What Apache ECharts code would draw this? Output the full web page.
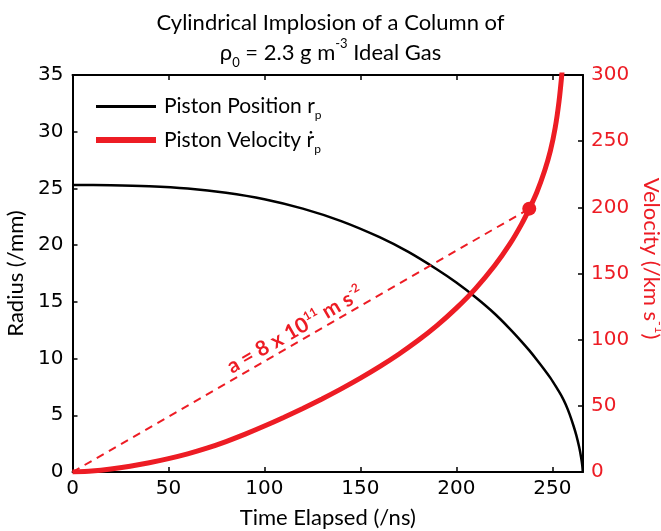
<!DOCTYPE html>
<html>
<head>
<meta charset="utf-8">
<style>
  html, body { margin: 0; padding: 0; background: #fff; }
  #chart { width: 661px; height: 531px; }
</style>
<script src="https://cdn.jsdelivr.net/npm/echarts@6/dist/echarts.min.js"></script>
</head>
<body>
<div id="chart"></div>
<script>
// piston position r_p (mm) against time (ns)
const posTime = [0, 20, 40, 60, 80, 100, 120, 140, 160, 175, 190, 200, 210, 220, 228, 234, 238, 242, 246, 249, 252, 255, 257, 259, 261, 262.5, 264, 265, 265.6, 265.9];
const posRadius = [25.3, 25.28, 25.19, 24.99, 24.62, 24.05, 23.22, 22.12, 20.7, 19.4, 17.85, 16.7, 15.4, 13.95, 12.6, 11.5, 10.72, 9.88, 9.0, 8.3, 7.5, 6.65, 5.95, 5.1, 4.1, 3.25, 2.2, 1.3, 0.6, 0];

// piston velocity (km/s) against time (ns)
const velTime = [0, 10, 20, 30, 40, 50, 60, 70, 80, 90, 100, 110, 120, 130, 140, 150, 160, 170, 180, 190, 200, 210, 220, 228, 234, 238, 242, 246, 249, 251.5, 253.5, 255, 256.5];
const velValue = [0, 0.8, 2.3, 4.4, 7.0, 10.1, 13.7, 18.0, 23.0, 28.6, 34.7, 41.2, 48.0, 55.2, 62.8, 70.9, 79.6, 89.0, 99.3, 110.8, 123.8, 138.6, 156.0, 172.5, 187.3, 198.8, 211.6, 227.6, 242.6, 260, 280, 301, 326];

// constant acceleration guide (0,0) -> marked point
const accelTime = [0, 238];
const accelVel = [0, 199];

const xTicks = [0, 50, 100, 150, 200, 250];

const RED = '#ed1c24';
const TXT_FONT = 'Lato';
const NUM_FONT = 'DejaVu Sans';

const zip = (a, b) => a.map((v, i) => [v, b[i]]);

const chart = echarts.init(document.getElementById('chart'));

const tickStyle = { inside: true, length: 5, lineStyle: { color: '#000', width: 1.5 } };
const lineAxis = { show: true, onZero: false, lineStyle: { color: '#000', width: 2 } };

chart.setOption({
  animation: false,
  title: {
    left: 'center',
    top: 3,
    text: 'Cylindrical Implosion of a Column of\n{n|ρ}{sub|0}{n| = 2.3 g m}{sup|-3}{n| Ideal Gas}',
    textStyle: {
      fontFamily: TXT_FONT,
      fontSize: 22,
      fontWeight: 'normal',
      color: '#000',
      lineHeight: 29,
      rich: {
        n: { fontFamily: TXT_FONT, fontSize: 22, color: '#000', lineHeight: 29 },
        sub: { fontFamily: TXT_FONT, fontSize: 13, color: '#000', verticalAlign: 'bottom', lineHeight: 22 },
        sup: { fontFamily: TXT_FONT, fontSize: 13, color: '#000', verticalAlign: 'top', lineHeight: 32 }
      }
    }
  },
  legend: {
    orient: 'vertical',
    left: 88,
    top: 91,
    itemWidth: 60,
    itemHeight: 14,
    itemGap: 8,
    selectedMode: false,
    itemStyle: { opacity: 0 },
    data: [
      { name: 'Piston Position', lineStyle: { width: 3, color: '#000' } },
      { name: 'Piston Velocity', lineStyle: { width: 6, color: RED } }
    ],
    formatter(name) {
      return name === 'Piston Position' ? 'Piston Position r{sub|p}' : 'Piston Velocity ṙ{sub|p}';
    },
    textStyle: {
      fontFamily: TXT_FONT,
      fontSize: 21,
      color: '#000',
      padding: [0, 0, 0, 3],
      rich: {
        sub: { fontFamily: TXT_FONT, fontSize: 12, color: '#000', verticalAlign: 'bottom', lineHeight: 30 }
      }
    }
  },
  grid: { left: 72.5, right: 78, top: 75, bottom: 59, containLabel: false, outerBoundsMode: 'none' },
  xAxis: [
    {
      type: 'value',
      min: 0,
      max: 266,
      interval: 50,
      name: 'Time Elapsed (/ns)',
      nameLocation: 'middle',
      nameGap: 35,
      nameTextStyle: { fontFamily: TXT_FONT, fontSize: 22, color: '#000' },
      axisLine: lineAxis,
      axisTick: tickStyle,
      axisLabel: {
        fontFamily: NUM_FONT, fontSize: 20, color: '#000', margin: 7,
        showMaxLabel: false,
        formatter: v => (xTicks.includes(v) ? String(v) : '')
      },
      splitLine: { show: false }
    },
    {
      type: 'value',
      position: 'top',
      min: 0,
      max: 266,
      interval: 50,
      axisLine: lineAxis,
      axisTick: tickStyle,
      axisLabel: { show: false },
      splitLine: { show: false }
    }
  ],
  yAxis: [
    {
      type: 'value',
      position: 'left',
      min: 0,
      max: 35,
      interval: 5,
      name: 'Radius (/mm)',
      nameLocation: 'middle',
      nameGap: 29,
      nameTextStyle: { fontFamily: TXT_FONT, fontSize: 22, color: '#000' },
      axisLine: lineAxis,
      axisTick: tickStyle,
      axisLabel: { fontFamily: NUM_FONT, fontSize: 20, color: '#000', margin: 9 },
      splitLine: { show: false }
    },
    {
      type: 'value',
      position: 'right',
      min: 0,
      max: 300,
      interval: 50,
      name: 'Velocity (/km s{sup|-1})',
      nameLocation: 'middle',
      nameRotate: -90,
      nameGap: 42,
      nameTextStyle: {
        fontFamily: TXT_FONT, fontSize: 22, color: RED,
        padding: [0, 30, 0, 0],
        rich: { sup: { fontFamily: TXT_FONT, fontSize: 13, color: RED, verticalAlign: 'top', lineHeight: 30 } }
      },
      axisLine: lineAxis,
      axisTick: tickStyle,
      axisLabel: { fontFamily: NUM_FONT, fontSize: 20, color: RED, margin: 8 },
      splitLine: { show: false }
    }
  ],
  series: [
    {
      name: 'Piston Position',
      type: 'line',
      xAxisIndex: 0,
      yAxisIndex: 0,
      data: zip(posTime, posRadius),
      smooth: 0.25,
      symbol: 'none',
      lineStyle: { color: '#000', width: 2.5 },
      itemStyle: { color: '#000' },
      z: 3
    },
    {
      name: 'Piston Velocity',
      type: 'line',
      xAxisIndex: 0,
      yAxisIndex: 1,
      data: zip(velTime, velValue),
      smooth: 0.25,
      symbol: 'none',
      clip: true,
      lineStyle: { color: RED, width: 5 },
      itemStyle: { color: RED },
      z: 4
    },
    {
      name: 'accel',
      type: 'scatter',
      xAxisIndex: 0,
      yAxisIndex: 1,
      data: [[accelTime[1], accelVel[1]]],
      symbolSize: 14,
      itemStyle: { color: RED, opacity: 1 },
      z: 5,
      silent: true,
      markLine: {
        silent: true,
        symbol: ['none', 'none'],
        lineStyle: { color: RED, width: 2, type: [8, 6], opacity: 1 },
        label: {
          show: true,
          position: 'middle',
          distance: 0,
          formatter: '{b|a = 8 x 10}{s|11}{b| m s}{s|-2}',
          rich: {
            b: { fontFamily: TXT_FONT, fontSize: 21, fontWeight: 'bold', color: RED, lineHeight: 24 },
            s: { fontFamily: TXT_FONT, fontSize: 12, fontWeight: 'bold', color: RED, verticalAlign: 'top', lineHeight: 24 }
          }
        },
        emphasis: { disabled: true },
        data: [[
          { coord: [accelTime[0], accelVel[0]] },
          { coord: [accelTime[1], accelVel[1]] }
        ]]
      }
    }
  ]
});
</script>
</body>
</html>
